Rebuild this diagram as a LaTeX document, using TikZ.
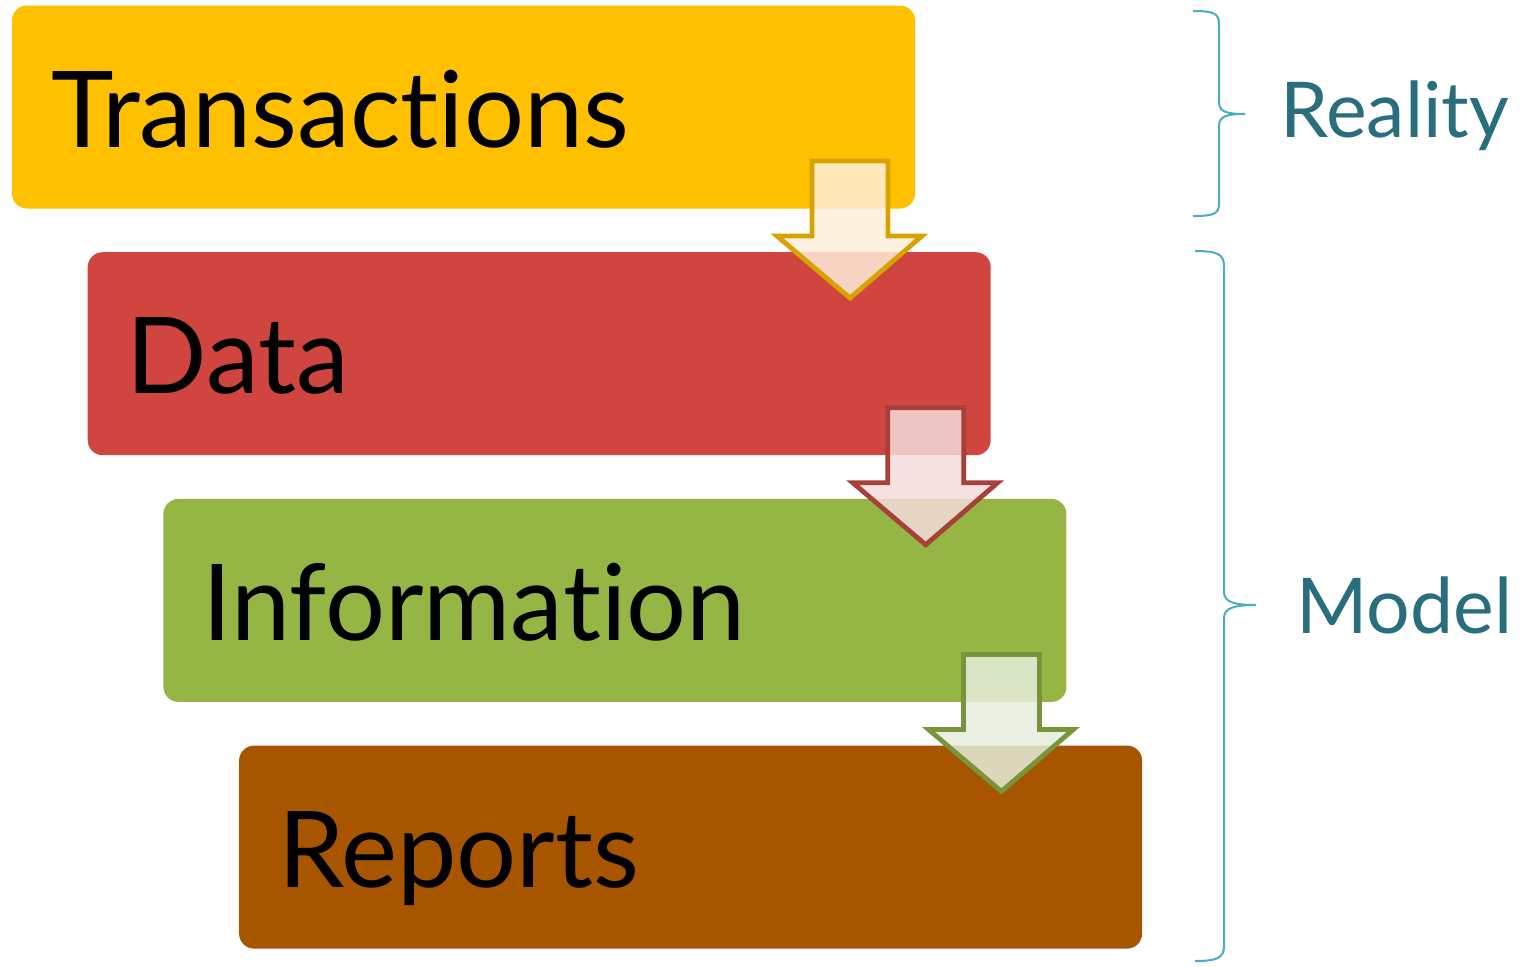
\documentclass[tikz,border=0pt]{standalone}
\usepackage{fontspec}
\setmainfont{Lato}[Ligatures={NoCommon,NoRare,NoDiscretionary}]
\usetikzlibrary{positioning}
\definecolor{transyellow}{HTML}{FFC000}
\definecolor{datared}{HTML}{D0453F}
\definecolor{infogreen}{HTML}{95B545}
\definecolor{repbrown}{HTML}{A85500}
\definecolor{arrAline}{HTML}{D6A300}
\definecolor{arrAfill}{HTML}{FFEEDA}
\definecolor{arrBline}{HTML}{A8403A}
\definecolor{arrBfill}{HTML}{F3DCDA}
\definecolor{arrCline}{HTML}{78953A}
\definecolor{arrCfill}{HTML}{E6EDDC}
\definecolor{braceblue}{HTML}{4BACC6}
\definecolor{sidetext}{HTML}{286E7D}
\tikzset{
  layer/.style={rounded corners=7.5pt, minimum width=451.5pt, minimum height=101.5pt, inner sep=0pt},
  layertext/.style={font=\fontsize{53}{60}\selectfont, anchor=base west, inner sep=0pt},
  flow/.style={line width=2.4pt, fill opacity=0.85, line join=miter},
  bracket/.style={draw=braceblue, line width=1pt},
  side/.style={font=\fontsize{38.5}{44}\selectfont, text=sidetext, anchor=base west, inner sep=0pt}
}
\begin{document}
\begin{tikzpicture}[x=0.5pt,y=-0.5pt]
    \useasboundingbox (0,0) rectangle (1522,966);
    % Stufen
    \foreach \name/\txt/\col [count=\i from 0] in {trans/Transactions/transyellow, data/Data/datared, info/Information/infogreen, rep/Reports/repbrown}
    {
        \node[layer, fill=\col] (\name) at (463.5+75.7*\i, 107+246.7*\i) {};
        \node[layertext] (\name txt) at ([xshift=19.5pt,yshift=-20pt]\name.west) {\txt};
    }
    % Pfeile
    \foreach \i/\fc/\lc in {0/arrAfill/arrAline, 1/arrBfill/arrBline, 2/arrCfill/arrCline}
    {
        \draw[flow, draw=\lc, fill=\fc, shift={(75.7*\i,246.7*\i)}] (812,161) -- (888,161) -- (888,236) -- (922,236) -- (850,298) -- (777,236) -- (812,236) -- cycle;
    }
    % Klammern
    \coordinate (realtip) at (1245,114);
    \coordinate (modeltip) at (1256,605);
    \draw[bracket] (1193,11) .. controls (1213,11) and (1219,13) .. (1219,24) -- (1219,102) .. controls (1219,112) and (1227,114) .. (realtip) .. controls (1227,114) and (1219,116) .. (1219,126) -- (1219,204) .. controls (1219,214) and (1213,216) .. (1193,216);
    \draw[bracket] (1195,251) .. controls (1217,251) and (1224,254) .. (1224,266) -- (1224,592) .. controls (1224,602) and (1234,605) .. (modeltip) .. controls (1234,605) and (1224,608) .. (1224,618) -- (1224,946) .. controls (1224,958) and (1217,961) .. (1195,961);
    \node[side] (reality) at (1280,137) {Reality};
    \node[side] (model) at (1296,633) {Model};
\end{tikzpicture}
\end{document}
